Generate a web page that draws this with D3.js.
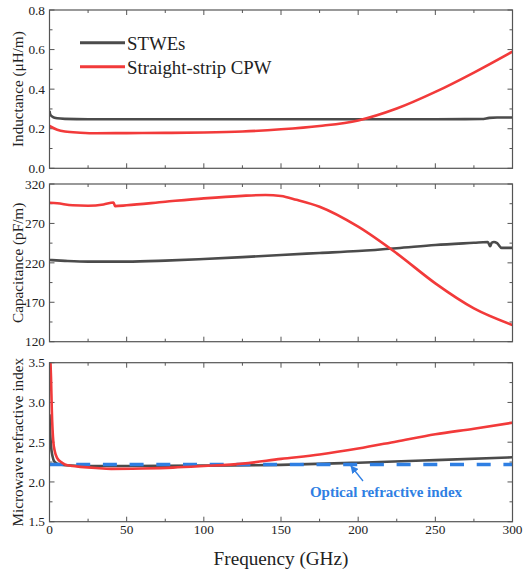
<!DOCTYPE html>
<html><head><meta charset="utf-8">
<script src="https://cdn.jsdelivr.net/npm/d3@7"></script>
<style>body{margin:0;background:#fff}svg{display:block}</style>
</head><body><svg id="c" width="530" height="572" font-family="'Liberation Serif', 'Times New Roman', 'DejaVu Serif', serif"></svg>
<script>
// ---- data ----
const xTicks = [0, 50, 100, 150, 200, 250, 300];
const indTicks = [0.0, 0.2, 0.4, 0.6, 0.8];
const capTicks = [120, 170, 220, 270, 320];
const nTicks = [1.5, 2.0, 2.5, 3.0, 3.5];
const seriesNames = ["STWEs", "Straight-strip CPW"];

const indSTWEFreq = [0, 0.5, 2, 5, 10, 25, 50, 100, 150, 200, 250, 280, 285, 290, 300];
const indSTWE     = [0.29, 0.272, 0.26, 0.253, 0.25, 0.248, 0.248, 0.248, 0.248, 0.248, 0.248, 0.249, 0.255, 0.257, 0.257];
const indCPWFreq  = [0, 5, 10, 20, 30, 50, 75, 100, 125, 150, 175, 200, 225, 250, 275, 300];
const indCPW      = [0.214, 0.195, 0.186, 0.18, 0.177, 0.178, 0.179, 0.181, 0.186, 0.197, 0.214, 0.242, 0.302, 0.386, 0.484, 0.59];

const capSTWEFreq = [0, 10, 25, 50, 75, 100, 125, 150, 175, 200, 225, 250, 275, 284, 285.5, 286.5, 288, 290, 293, 300];
const capSTWE     = [223.6, 222.5, 221.5, 221.5, 222.8, 224.9, 227.3, 230, 232.5, 235, 238.5, 242.6, 245.5, 246.5, 241, 245.5, 246.5, 245, 239, 239];
const capCPWFreq  = [0, 5, 15, 25, 35, 41.5, 42.5, 50, 75, 100, 125, 140, 150, 160, 175, 200, 225, 250, 275, 300];
const capCPW      = [296.3, 295.5, 293, 292.5, 294, 296.5, 292, 293, 297.5, 301.8, 305, 306, 304.8, 300, 291.2, 265.9, 232, 194, 162.3, 141.2];

const nSTWEFreq = [0, 0.5, 1, 2, 3, 5, 10, 25, 50, 100, 150, 200, 250, 300];
const nSTWE     = [2.85, 2.6, 2.45, 2.32, 2.26, 2.23, 2.21, 2.2, 2.2, 2.205, 2.215, 2.242, 2.275, 2.31];
const nCPWFreq  = [0.3, 1, 1.5, 2.5, 3.5, 5, 7.5, 10, 15, 20, 30, 40, 60, 80, 100, 125, 150, 175, 200, 225, 250, 275, 300];
const nCPW      = [3.7, 3.3, 2.9, 2.5, 2.38, 2.3, 2.25, 2.22, 2.2, 2.19, 2.175, 2.165, 2.17, 2.18, 2.2, 2.23, 2.29, 2.345, 2.42, 2.51, 2.6, 2.67, 2.745];
const opticalFreq  = [0, 300];
const opticalIndex = [2.22, 2.22];
const opticalLabel = "Optical refractive index";

// ---- styles ----
const FONT = "'Liberation Serif', 'Times New Roman', 'DejaVu Serif', serif";
const GRAY = "#4b4b4b", RED = "#f23a3a", BLUE = "#2f7fe3", FRAME = "#555";
const svg = d3.select("#c");
const x = d3.scaleLinear().domain([0, 300]).range([49.5, 512.5]);

const panels = [
  {id: "ind", top: 10, bot: 168.3, dom: [0, 0.8], ticks: indTicks, minor: 0.1, fmt: d3.format(".1f"), title: "Inductance (\u03bcH/m)"},
  {id: "cap", top: 184, bot: 341.7, dom: [120, 320], ticks: capTicks, minor: 25, fmt: d3.format("d"), title: "Capacitance (pF/m)"},
  {id: "n", top: 362.7, bot: 521.7, dom: [1.5, 3.5], ticks: nTicks, minor: 0.25, fmt: d3.format(".1f"), title: "Microwave refractive index"}
];
const defs = svg.append("defs");
const x0 = x.range()[0], x1 = x.range()[1];
const xMinor = d3.range(0, 301, 25);

function txt(sel) { return sel.append("text").attr("font-family", FONT); }

panels.forEach((p, i) => {
  p.y = d3.scaleLinear().domain(p.dom).range([p.bot, p.top]);
  defs.append("clipPath").attr("id", "clip" + p.id).append("rect")
    .attr("x", x0).attr("y", p.top).attr("width", x1 - x0).attr("height", p.bot - p.top);
  const g = svg.append("g");
  const yMinor = d3.range(p.dom[0], p.dom[1] + 1e-9, p.minor);
  const isMajorY = v => p.ticks.some(t => Math.abs(t - v) < 1e-6);
  yMinor.forEach(v => {
    const L = isMajorY(v) ? 5 : 3;
    g.append("line").attr("x1", x0).attr("x2", x0 + L).attr("y1", p.y(v)).attr("y2", p.y(v)).attr("stroke", FRAME).attr("stroke-width", 1);
    g.append("line").attr("x1", x1).attr("x2", x1 - L).attr("y1", p.y(v)).attr("y2", p.y(v)).attr("stroke", FRAME).attr("stroke-width", 1);
  });
  xMinor.forEach(v => {
    const L = xTicks.includes(v) ? 5 : 3;
    g.append("line").attr("x1", x(v)).attr("x2", x(v)).attr("y1", p.bot).attr("y2", p.bot - L).attr("stroke", FRAME).attr("stroke-width", 1);
    g.append("line").attr("x1", x(v)).attr("x2", x(v)).attr("y1", p.top).attr("y2", p.top + L).attr("stroke", FRAME).attr("stroke-width", 1);
  });
  p.ticks.forEach(v => {
    txt(g).attr("x", 45).attr("y", p.y(v)).attr("dy", "0.35em").attr("text-anchor", "end")
      .attr("font-size", 13.3).attr("fill", "#222").text(p.fmt(v));
  });
  const cy = (p.top + p.bot) / 2;
  txt(g).attr("transform", `translate(22.5,${cy}) rotate(-90)`).attr("text-anchor", "middle")
    .attr("font-size", 15.2).attr("fill", "#222").text(p.title);
  p.g = svg.append("g").attr("clip-path", `url(#clip${p.id})`);
  p.frame = () => svg.append("rect").attr("x", x0).attr("y", p.top).attr("width", x1 - x0).attr("height", p.bot - p.top)
    .attr("fill", "none").attr("stroke", FRAME).attr("stroke-width", 1.2);
});

function draw(p, fx, fy, color, width, dash) {
  const line = d3.line().x(d => x(d[0])).y(d => p.y(d[1])).curve(d3.curveMonotoneX);
  const path = p.g.append("path").datum(d3.zip(fx, fy)).attr("d", line)
    .attr("fill", "none").attr("stroke", color).attr("stroke-width", width)
    .attr("stroke-linejoin", "round");
  if (dash) path.attr("stroke-dasharray", dash);
}
const [P1, P2, P3] = panels;
draw(P1, indSTWEFreq, indSTWE, GRAY, 2.6);
draw(P1, indCPWFreq, indCPW, RED, 2.6);
draw(P2, capSTWEFreq, capSTWE, GRAY, 2.6);
draw(P2, capCPWFreq, capCPW, RED, 2.6);
draw(P3, nSTWEFreq, nSTWE, GRAY, 2.6);
draw(P3, opticalFreq, opticalIndex, BLUE, 3.4, "14 12.7");
draw(P3, nCPWFreq, nCPW, RED, 2.6);
panels.forEach(p => p.frame());

xTicks.forEach(v => {
  txt(svg).attr("x", x(v)).attr("y", 534).attr("text-anchor", "middle")
    .attr("font-size", 13.3).attr("fill", "#222").text(v);
});
txt(svg).attr("x", (x0 + x1) / 2).attr("y", 565).attr("text-anchor", "middle")
  .attr("font-size", 19.2).attr("fill", "#222").text("Frequency (GHz)");

const leg = [[GRAY, 42.7, 50], [RED, 66.7, 73.5]];
seriesNames.forEach((name, i) => {
  svg.append("line").attr("x1", 80).attr("x2", 125).attr("y1", leg[i][1]).attr("y2", leg[i][1])
    .attr("stroke", leg[i][0]).attr("stroke-width", 3);
  txt(svg).attr("x", 127).attr("y", leg[i][2]).attr("font-size", 18.8).attr("fill", "#222").text(name);
});

defs.append("marker").attr("id", "ah").attr("viewBox", "0 0 10 10").attr("refX", 9).attr("refY", 5)
  .attr("markerWidth", 6).attr("markerHeight", 6).attr("orient", "auto")
  .append("path").attr("d", "M0,0 L10,5 L0,10 z").attr("fill", BLUE);
svg.append("line").attr("x1", 363).attr("y1", 481).attr("x2", 351).attr("y2", 466)
  .attr("stroke", BLUE).attr("stroke-width", 1.3).attr("marker-end", "url(#ah)");
txt(svg).attr("x", 386).attr("y", 496.5).attr("text-anchor", "middle")
  .attr("font-size", 15).attr("font-weight", "bold").attr("fill", BLUE).text(opticalLabel);
</script></body></html>
